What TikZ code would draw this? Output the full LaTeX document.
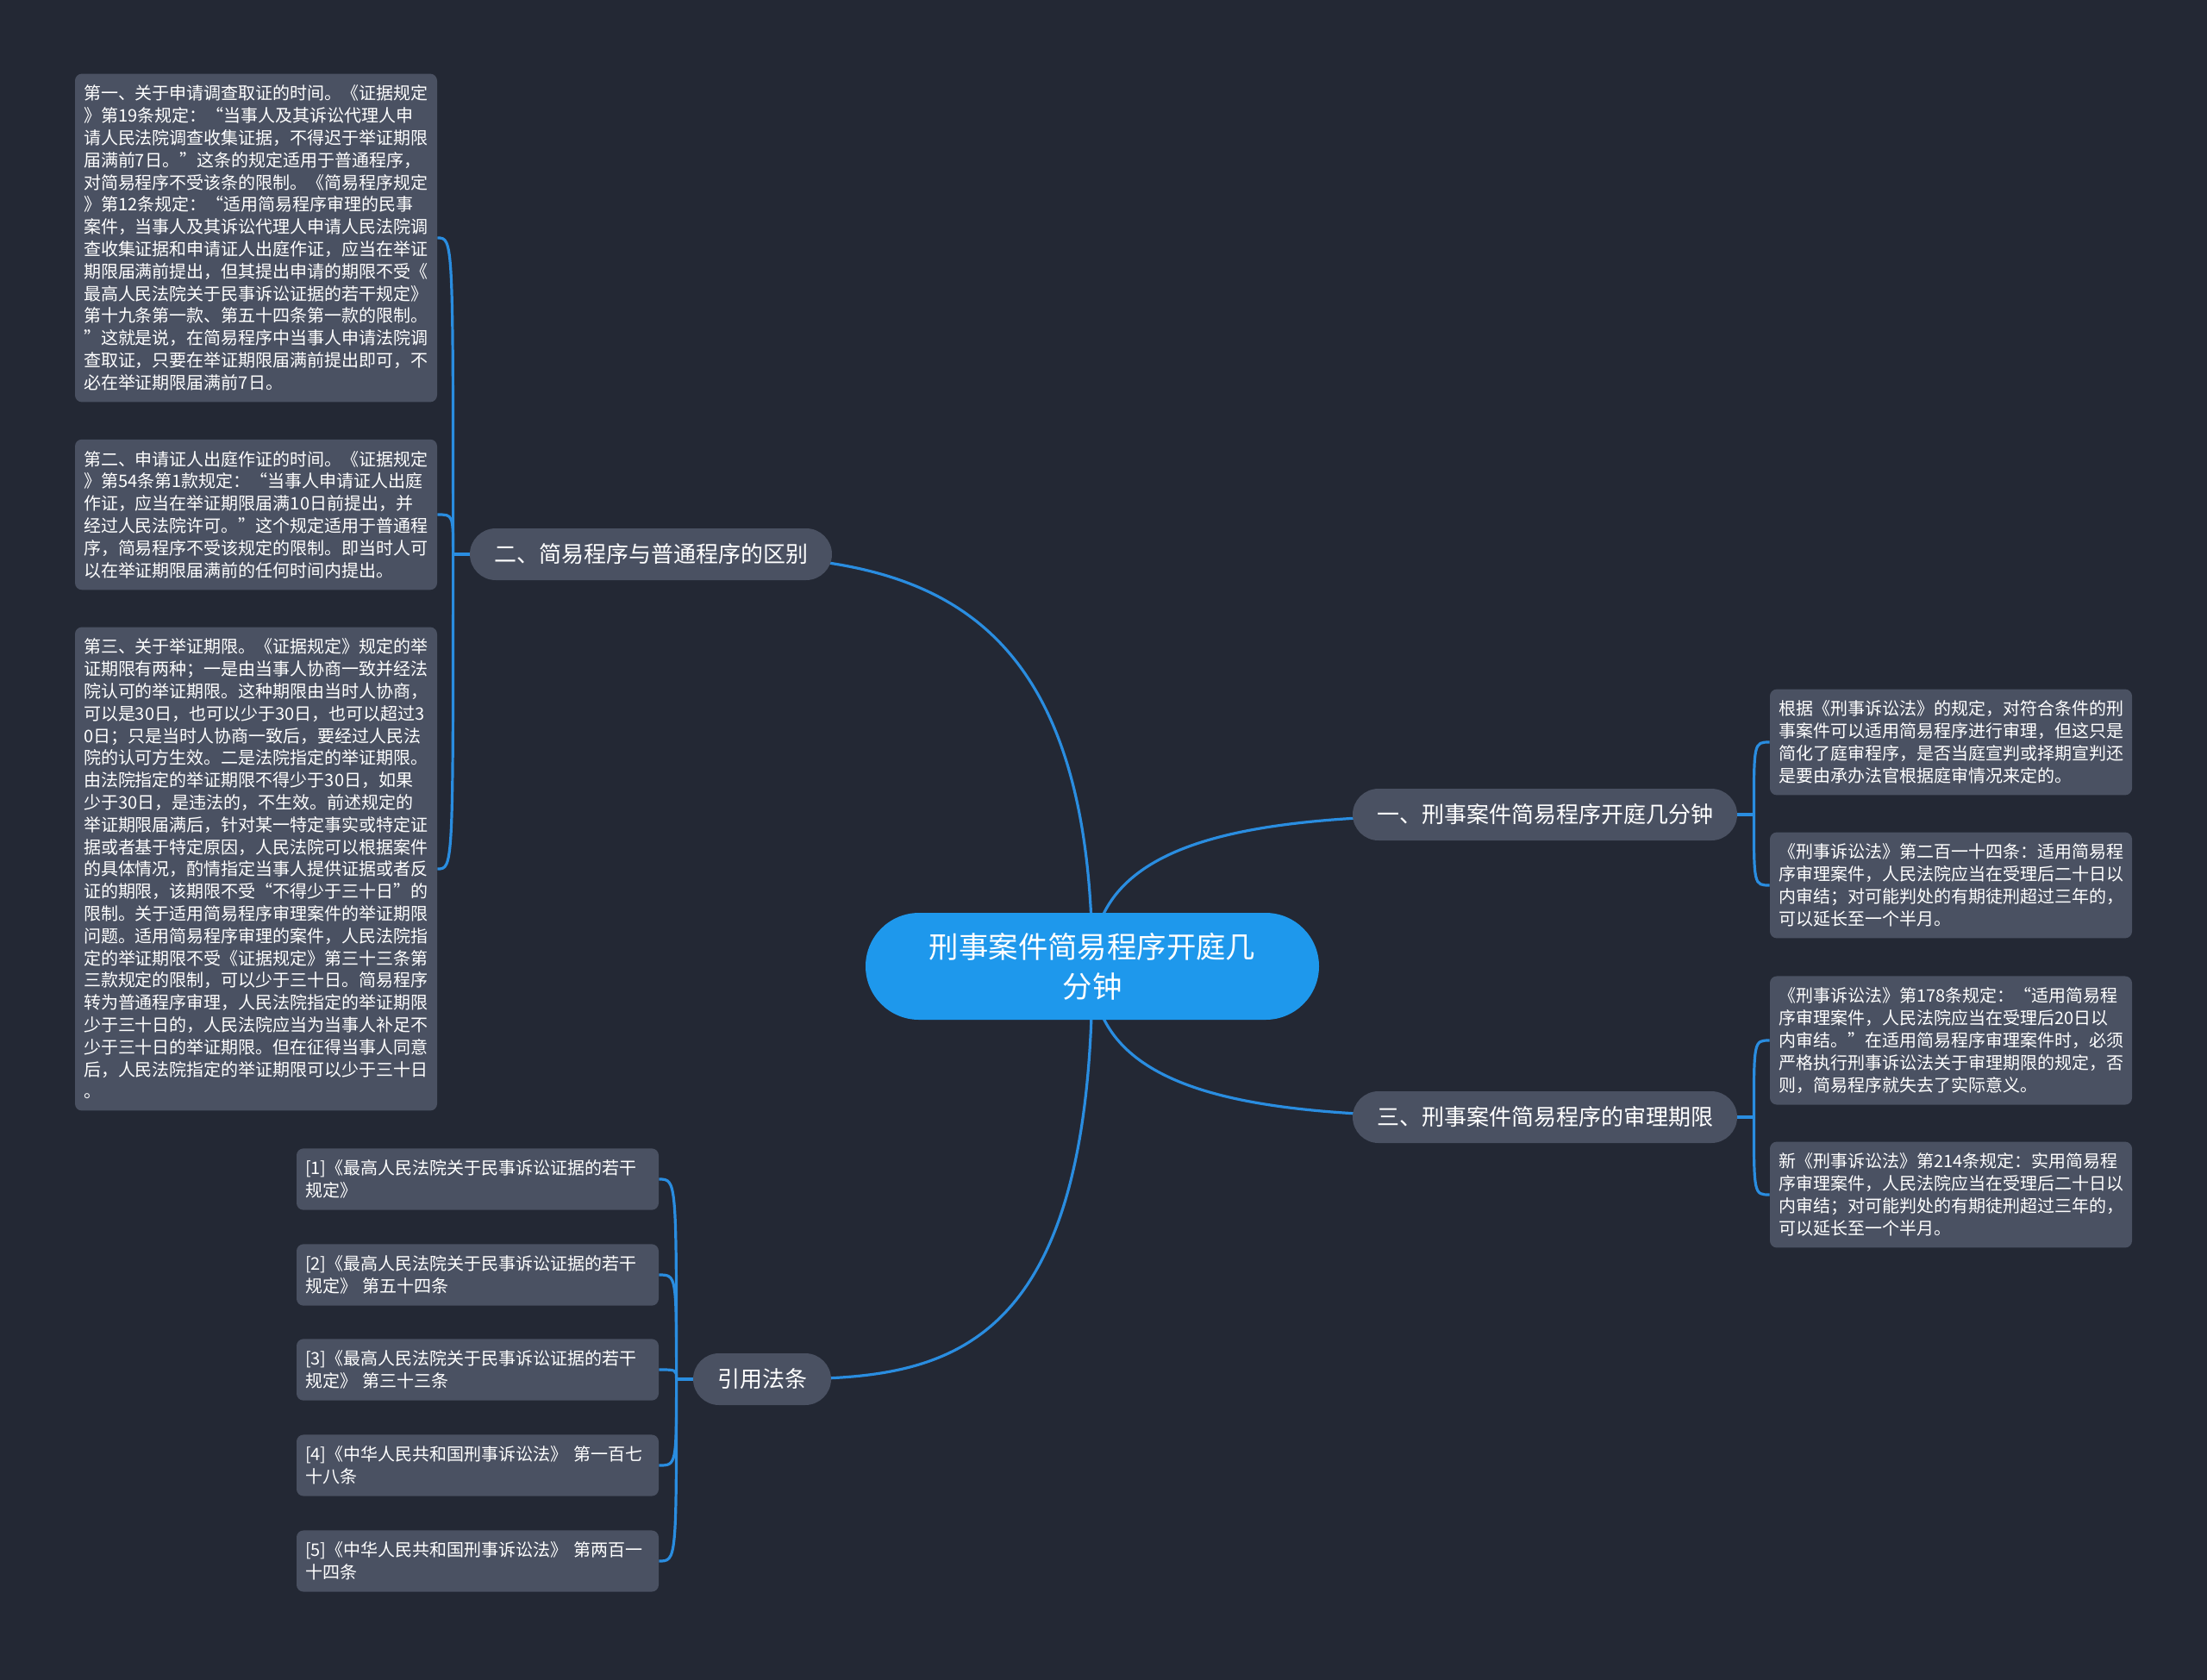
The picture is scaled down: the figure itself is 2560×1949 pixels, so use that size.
\documentclass[tikz,border=0pt]{standalone}
\usepackage{fontspec}
\newfontfamily\cjk{Noto Sans CJK SC}
\usetikzlibrary{calc}
\definecolor{bgdark}{HTML}{232834}
\definecolor{boxgray}{HTML}{4A5162}
\definecolor{rootblue}{HTML}{1E98EC}
\definecolor{linkblue}{HTML}{2A8DE0}
\pgfdeclarelayer{bg}
\pgfdeclarelayer{edges}
\pgfsetlayers{bg,edges,main}
\tikzset{
  leaf/.style={fill=boxgray, rounded corners=4pt, text=white, align=left, text width=200pt,
    inner xsep=5pt, inner ysep=6.7pt, font=\cjk\fontsize{10}{12.9}\selectfont},
  branch/.style={fill=boxgray, rounded corners=15pt, text=white, minimum height=30pt,
    inner xsep=14pt, font=\cjk\fontsize{13}{15}\selectfont},
  root/.style={fill=rootblue, rounded corners=31pt, text=white, align=center, text width=200pt,
    minimum width=263pt, minimum height=62pt, font=\cjk\fontsize{17.2}{23}\selectfont},
  link/.style={draw=linkblue, line width=1.6pt},
}
\begin{document}
\begin{tikzpicture}[x=0.5pt,y=-0.5pt]
\useasboundingbox (0,0) rectangle (2560,1949);
\begin{pgfonlayer}{bg}
\fill[bgdark] (0,0) rectangle (2560,1949);
\end{pgfonlayer}

% root and main branches
\node[root] (ctr) at (1267,1121) {刑事案件简易程序开庭几\\分钟};
\node[branch] (b2) at (755,643) {二、简易程序与普通程序的区别};
\node[branch] (b1) at (1792,945) {一、刑事案件简易程序开庭几分钟};
\node[branch] (b3) at (1792,1296) {三、刑事案件简易程序的审理期限};
\node[branch] (bref) at (884,1600) {引用法条};

% leaves of 二
\node[leaf] (l21) at (297,276) {第一、关于申请调查取证的时间。《证据规定\\》第19条规定：“当事人及其诉讼代理人申\\请人民法院调查收集证据，不得迟于举证期限\\届满前7日。”这条的规定适用于普通程序，\\对简易程序不受该条的限制。《简易程序规定\\》第12条规定：“适用简易程序审理的民事\\案件，当事人及其诉讼代理人申请人民法院调\\查收集证据和申请证人出庭作证，应当在举证\\期限届满前提出，但其提出申请的期限不受《\\最高人民法院关于民事诉讼证据的若干规定》\\第十九条第一款、第五十四条第一款的限制。\\”这就是说，在简易程序中当事人申请法院调\\查取证，只要在举证期限届满前提出即可，不\\必在举证期限届满前7日。};
\node[leaf] (l22) at (297,597) {第二、申请证人出庭作证的时间。《证据规定\\》第54条第1款规定：“当事人申请证人出庭\\作证，应当在举证期限届满10日前提出，并\\经过人民法院许可。”这个规定适用于普通程\\序，简易程序不受该规定的限制。即当时人可\\以在举证期限届满前的任何时间内提出。};
\node[leaf] (l23) at (297,1008) {第三、关于举证期限。《证据规定》规定的举\\证期限有两种；一是由当事人协商一致并经法\\院认可的举证期限。这种期限由当时人协商，\\可以是30日，也可以少于30日，也可以超过3\\0日；只是当时人协商一致后，要经过人民法\\院的认可方生效。二是法院指定的举证期限。\\由法院指定的举证期限不得少于30日，如果\\少于30日，是违法的，不生效。前述规定的\\举证期限届满后，针对某一特定事实或特定证\\据或者基于特定原因，人民法院可以根据案件\\的具体情况，酌情指定当事人提供证据或者反\\证的期限，该期限不受“不得少于三十日”的\\限制。关于适用简易程序审理案件的举证期限\\问题。适用简易程序审理的案件，人民法院指\\定的举证期限不受《证据规定》第三十三条第\\三款规定的限制，可以少于三十日。简易程序\\转为普通程序审理，人民法院指定的举证期限\\少于三十日的，人民法院应当为当事人补足不\\少于三十日的举证期限。但在征得当事人同意\\后，人民法院指定的举证期限可以少于三十日\\。};

% leaves of 一 and 三
\node[leaf] (r11) at (2263,861) {根据《刑事诉讼法》的规定，对符合条件的刑\\事案件可以适用简易程序进行审理，但这只是\\简化了庭审程序，是否当庭宣判或择期宣判还\\是要由承办法官根据庭审情况来定的。};
\node[leaf] (r12) at (2263,1027) {《刑事诉讼法》第二百一十四条：适用简易程\\序审理案件，人民法院应当在受理后二十日以\\内审结；对可能判处的有期徒刑超过三年的，\\可以延长至一个半月。};
\node[leaf] (r31) at (2263,1207) {《刑事诉讼法》第178条规定：“适用简易程\\序审理案件，人民法院应当在受理后20日以\\内审结。”在适用简易程序审理案件时，必须\\严格执行刑事诉讼法关于审理期限的规定，否\\则，简易程序就失去了实际意义。};
\node[leaf] (r32) at (2263,1386) {新《刑事诉讼法》第214条规定：实用简易程\\序审理案件，人民法院应当在受理后二十日以\\内审结；对可能判处的有期徒刑超过三年的，\\可以延长至一个半月。};

% cited laws
\node[leaf] (ref1) at (554,1368) {[1]《最高人民法院关于民事诉讼证据的若干\\规定》};
\node[leaf] (ref2) at (554,1479) {[2]《最高人民法院关于民事诉讼证据的若干\\规定》 第五十四条};
\node[leaf] (ref3) at (554,1589) {[3]《最高人民法院关于民事诉讼证据的若干\\规定》 第三十三条};
\node[leaf] (ref4) at (554,1700) {[4]《中华人民共和国刑事诉讼法》 第一百七\\十八条};
\node[leaf] (ref5) at (554,1811) {[5]《中华人民共和国刑事诉讼法》 第两百一\\十四条};

\coordinate (j2) at ($(b2.west)+(-19,0)$);
\coordinate (j1) at ($(b1.east)+(19,0)$);
\coordinate (j3) at ($(b3.east)+(19,0)$);
\coordinate (jr) at ($(bref.west)+(-19,0)$);

\begin{pgfonlayer}{edges}
\foreach \b in {b2,b1,b3,bref}
  \draw[link] (ctr.center) .. controls (ctr.center |- \b.center) and ($(ctr.center |- \b.center)!0.5!(\b.center)$) .. (\b.center);
\draw[link] (b2.west) -- (j2);
\draw[link] (b1.east) -- (j1);
\draw[link] (b3.east) -- (j3);
\draw[link] (bref.west) -- (jr);
\foreach \n in {l21,l22,l23}
  \draw[link] (j2) .. controls (j2 |- \n.east) .. (\n.east);
\foreach \n in {r11,r12}
  \draw[link] (j1) .. controls (j1 |- \n.west) .. (\n.west);
\foreach \n in {r31,r32}
  \draw[link] (j3) .. controls (j3 |- \n.west) .. (\n.west);
\foreach \n in {ref1,ref2,ref3,ref4,ref5}
  \draw[link] (jr) .. controls (jr |- \n.east) .. (\n.east);
\end{pgfonlayer}
\end{tikzpicture}
\end{document}
